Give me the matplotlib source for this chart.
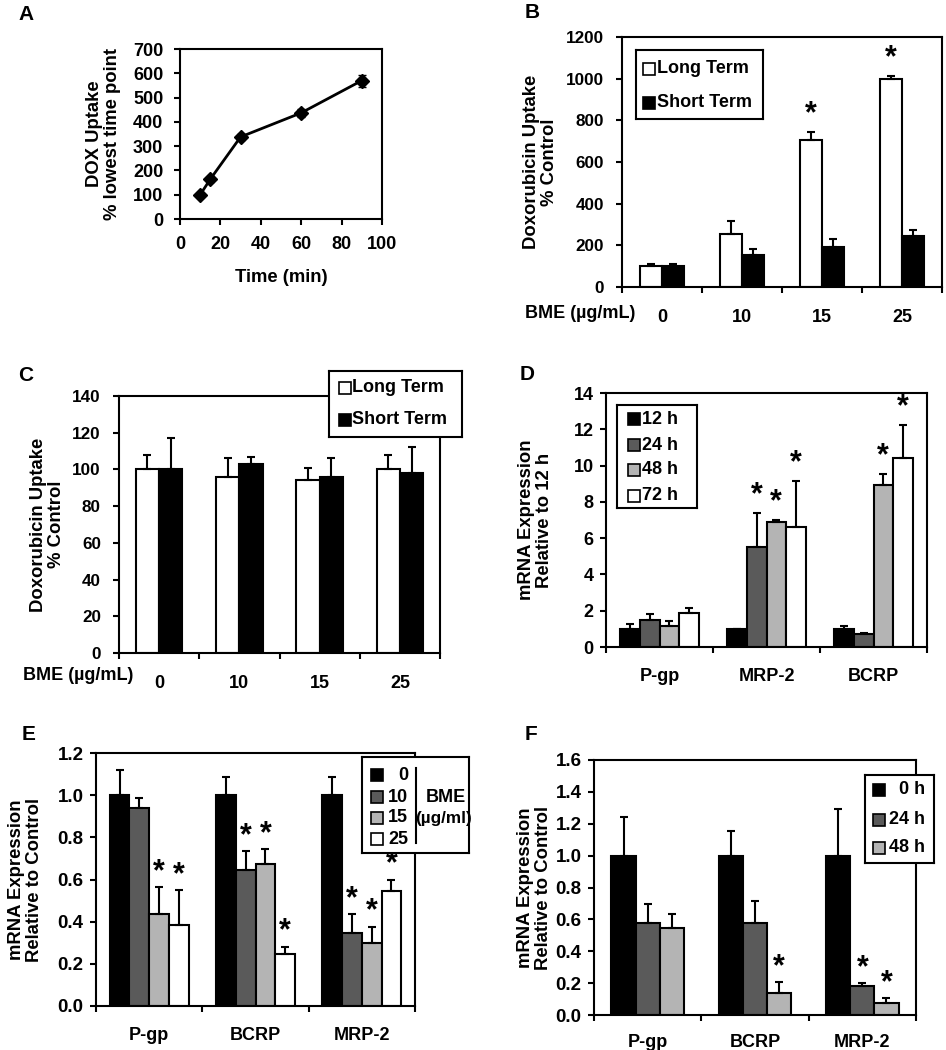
import matplotlib
matplotlib.use("Agg")
import matplotlib.pyplot as plt
import numpy as np

plt.rcParams['font.family'] = ['Liberation Sans', 'DejaVu Sans']
plt.rcParams['font.weight'] = 'bold'
plt.rcParams['axes.labelweight'] = 'bold'
plt.rcParams['font.size'] = 13
plt.rcParams['axes.linewidth'] = 1.5
plt.rcParams['xtick.major.width'] = 1.5
plt.rcParams['ytick.major.width'] = 1.5
plt.rcParams['xtick.major.size'] = 4
plt.rcParams['ytick.major.size'] = 4

# ---- data ----
# A: uptake time course
time_min = [10, 15, 30, 60, 90]
dox_uptake = [100, 164, 338, 437, 570]
dox_err = [8, 10, 12, 15, 25]

# B / C: BME dose
bme_doses = ['0', '10', '15', '25']
b_long = [100, 255, 705, 997]
b_long_err = [10, 62, 38, 14]
b_short = [102, 152, 191, 247]
b_short_err = [8, 31, 38, 27]
b_long_sig = [False, False, True, True]

c_long = [100, 96, 94, 100]
c_long_err = [8, 10, 7, 8]
c_short = [100, 103, 96, 98]
c_short_err = [17, 4, 10, 14]

# D: mRNA over time (relative to 12 h)
d_genes = ['P-gp', 'MRP-2', 'BCRP']
d_times = ['12 h', '24 h', '48 h', '72 h']
d_12 = [1.0, 1.0, 1.0]
d_24 = [1.5, 5.5, 0.7]
d_48 = [1.15, 6.9, 8.95]
d_72 = [1.85, 6.6, 10.4]
d_12_err = [0.28, 0.0, 0.13]
d_24_err = [0.3, 1.87, 0.07]
d_48_err = [0.26, 0.12, 0.6]
d_72_err = [0.32, 2.56, 1.85]
d_sig = [[False, False, False], [False, True, False], [False, True, True], [False, True, True]]

# E: mRNA vs BME dose
e_genes = ['P-gp', 'BCRP', 'MRP-2']
e_doses = ['0', '10', '15', '25']
e_0 = [1.0, 1.0, 1.0]
e_10 = [0.94, 0.645, 0.345]
e_15 = [0.435, 0.675, 0.30]
e_25 = [0.385, 0.245, 0.545]
e_0_err = [0.12, 0.085, 0.085]
e_10_err = [0.045, 0.09, 0.09]
e_15_err = [0.13, 0.07, 0.076]
e_25_err = [0.165, 0.037, 0.055]
e_sig = [[False, False, False], [False, True, True], [True, True, True], [True, True, True]]

# F: mRNA after removal
f_genes = ['P-gp', 'BCRP', 'MRP-2']
f_times = ['0 h', '24 h', '48 h']
f_0 = [1.0, 1.0, 1.0]
f_24 = [0.575, 0.58, 0.182]
f_48 = [0.544, 0.14, 0.077]
f_0_err = [0.245, 0.155, 0.29]
f_24_err = [0.12, 0.135, 0.02]
f_48_err = [0.09, 0.067, 0.028]
f_sig = [[False, False, False], [False, False, True], [False, True, True]]

W, H = 946, 1050
fig = plt.figure(figsize=(W / 100, H / 100), dpi=100)


def px_axes(l, t, r, b):
    return fig.add_axes([l / W, 1 - b / H, (r - l) / W, (b - t) / H])


def fx(x):
    return x / W


def fy(y):
    return 1 - y / H


def bar_group(ax, series, errs, colors, width, sig=None, star_off=3):
    n = len(series)
    ncat = len(series[0])
    idx = np.arange(ncat) + 0.5
    for j in range(n):
        x = idx + (j - (n - 1) / 2) * width
        ax.bar(x, series[j], width, color=colors[j], edgecolor='black', linewidth=1.5, zorder=2)
        ax.errorbar(x, series[j], yerr=[np.zeros(ncat), errs[j]], fmt='none',
                    ecolor='black', elinewidth=1.5, capsize=3, capthick=1.5, zorder=3)
        if sig is not None:
            for k in range(ncat):
                if sig[j][k]:
                    ax.annotate('*', (x[k], series[j][k] + errs[j][k]), xytext=(0, star_off),
                                textcoords='offset points', ha='center', va='bottom',
                                fontsize=22, fontweight='bold')
    ax.set_xlim(0, ncat)
    ax.set_xticks(np.arange(ncat + 1))
    ax.set_xticklabels([])
    ax.tick_params(axis='both', which='major', direction='out')


def cat_labels(ax, labels, pad):
    ax.set_xticks(np.arange(len(labels)) + 0.5, minor=True)
    ax.set_xticklabels(labels, minor=True, fontsize=13, fontweight='bold')
    ax.tick_params(axis='x', which='minor', length=0, pad=pad)


def y_label(ax, text, right_px, l, r):
    ax.set_ylabel(text, fontsize=13.3, fontweight='bold', linespacing=1.05)
    ax.yaxis.set_label_coords((right_px - l) / (r - l), 0.5)


def box_legend(l, t, r, b, labels, colors, marker_x, text_x, ys, ha='left', fs=13):
    lg = px_axes(l, t, r, b)
    lg.set_xlim(l, r)
    lg.set_ylim(b, t)
    lg.set_xticks([])
    lg.set_yticks([])
    lg.set_zorder(10)
    lg.patch.set_facecolor('white')
    for lab, c, y in zip(labels, colors, ys):
        lg.plot(marker_x, y, marker='s', markersize=8, markerfacecolor=c,
                markeredgecolor='black', markeredgewidth=1.2, linestyle='none')
        lg.text(text_x, y, lab, ha=ha, va='center', fontsize=fs, fontweight='bold')
    return lg


def panel_letter(x, y, s):
    fig.text(fx(x), fy(y), s, fontsize=15, fontweight='bold', ha='left', va='center')


dark = '#5a5a5a'
light = '#b4b4b4'

# ---- A ----
axA = px_axes(180, 49, 382, 219)
axA.errorbar(time_min, dox_uptake, yerr=dox_err, color='black', linewidth=2, marker='D',
             markersize=7, capsize=3, elinewidth=1.5)
axA.set_xlim(0, 100)
axA.set_ylim(0, 700)
axA.set_xticks(np.arange(0, 101, 20))
axA.set_yticks(np.arange(0, 701, 100))
axA.tick_params(direction='out', labelsize=13, pad=8)
axA.set_xlabel('Time (min)', fontsize=13.3, fontweight='bold', labelpad=12)
y_label(axA, 'DOX Uptake\n% lowest time point', 121, 180, 382)
panel_letter(18, 14, 'A')

# ---- B ----
axB = px_axes(622, 37, 942, 287)
bar_group(axB, [b_long, b_short], [b_long_err, b_short_err], ['white', 'black'], 0.28,
          sig=[b_long_sig, [False] * 4], star_off=2)
axB.set_ylim(0, 1200)
axB.set_yticks(np.arange(0, 1201, 200))
axB.tick_params(axis='y', labelsize=12.3, pad=9)
cat_labels(axB, bme_doses, 16)
y_label(axB, 'Doxorubicin Uptake\n% Control', 558, 622, 942)
fig.text(fx(635), fy(313), 'BME (µg/mL)', ha='right', va='center', fontsize=13, fontweight='bold')
box_legend(636, 50, 763, 119, ['Long Term', 'Short Term'], ['white', 'black'],
           649, 657, [69, 103])
panel_letter(525, 13, 'B')

# ---- C ----
axC = px_axes(119, 396, 440, 653)
bar_group(axC, [c_long, c_short], [c_long_err, c_short_err], ['white', 'black'], 0.29)
axC.set_ylim(0, 140)
axC.set_yticks(np.arange(0, 141, 20))
axC.tick_params(axis='y', labelsize=12.3, pad=9)
cat_labels(axC, bme_doses, 16)
y_label(axC, 'Doxorubicin Uptake\n% Control', 65, 119, 440)
fig.text(fx(133), fy(675), 'BME (µg/mL)', ha='right', va='center', fontsize=13, fontweight='bold')
box_legend(329, 371, 462, 437, ['Long Term', 'Short Term'], ['white', 'black'],
           345, 352, [388, 420])
panel_letter(18, 376, 'C')

# ---- D ----
axD = px_axes(606, 393, 927, 647)
bar_group(axD, [d_12, d_24, d_48, d_72], [d_12_err, d_24_err, d_48_err, d_72_err],
          ['black', dark, light, 'white'], 0.183, sig=d_sig, star_off=2)
axD.set_ylim(0, 14)
axD.set_yticks(np.arange(0, 15, 2))
axD.tick_params(axis='y', labelsize=13, pad=5)
cat_labels(axD, d_genes, 15)
y_label(axD, 'mRNA Expression\nRelative to 12 h', 553, 606, 927)
box_legend(617, 405, 697, 508, d_times, ['black', dark, light, 'white'],
           634, 642, [419, 445, 470, 496])
panel_letter(520, 374, 'D')

# ---- E ----
axE = px_axes(96, 753, 415, 1006)
bar_group(axE, [e_0, e_10, e_15, e_25], [e_0_err, e_10_err, e_15_err, e_25_err],
          ['black', dark, light, 'white'], 0.185, sig=e_sig, star_off=0)
axE.set_ylim(0, 1.2)
axE.set_yticks(np.arange(0, 1.21, 0.2))
axE.set_yticklabels(['%.1f' % v for v in np.arange(0, 1.21, 0.2)])
axE.tick_params(axis='y', labelsize=13.5, pad=5)
cat_labels(axE, e_genes, 15)
y_label(axE, 'mRNA Expression\nRelative to Control', 43, 96, 415)
lgE = box_legend(362, 757, 469, 853, e_doses, ['black', dark, light, 'white'],
                 377, 408, [775, 797, 818, 839], ha='right')
lgE.plot([416, 416], [768, 843], color='black', linewidth=1.5)
lgE.text(446, 797, 'BME', ha='center', va='center', fontsize=13, fontweight='bold')
lgE.text(443, 818, '(µg/ml)', ha='center', va='center', fontsize=12.3, fontweight='bold')
panel_letter(22, 735, 'E')

# ---- F ----
axF = px_axes(594, 760, 916, 1015)
bar_group(axF, [f_0, f_24, f_48], [f_0_err, f_24_err, f_48_err],
          ['black', dark, light], 0.225, sig=f_sig, star_off=0)
axF.set_ylim(0, 1.6)
axF.set_yticks(np.arange(0, 1.61, 0.2))
axF.set_yticklabels(['%.1f' % v for v in np.arange(0, 1.61, 0.2)])
axF.tick_params(axis='y', labelsize=13.5, pad=5)
cat_labels(axF, f_genes, 14)
y_label(axF, 'mRNA Expression\nRelative to Control', 552, 594, 916)
box_legend(865, 775, 934, 863, f_times, ['black', dark, light],
           879, 925, [790, 820, 848], ha='right')
panel_letter(525, 735, 'F')

fig.savefig('out.png', dpi=100)
